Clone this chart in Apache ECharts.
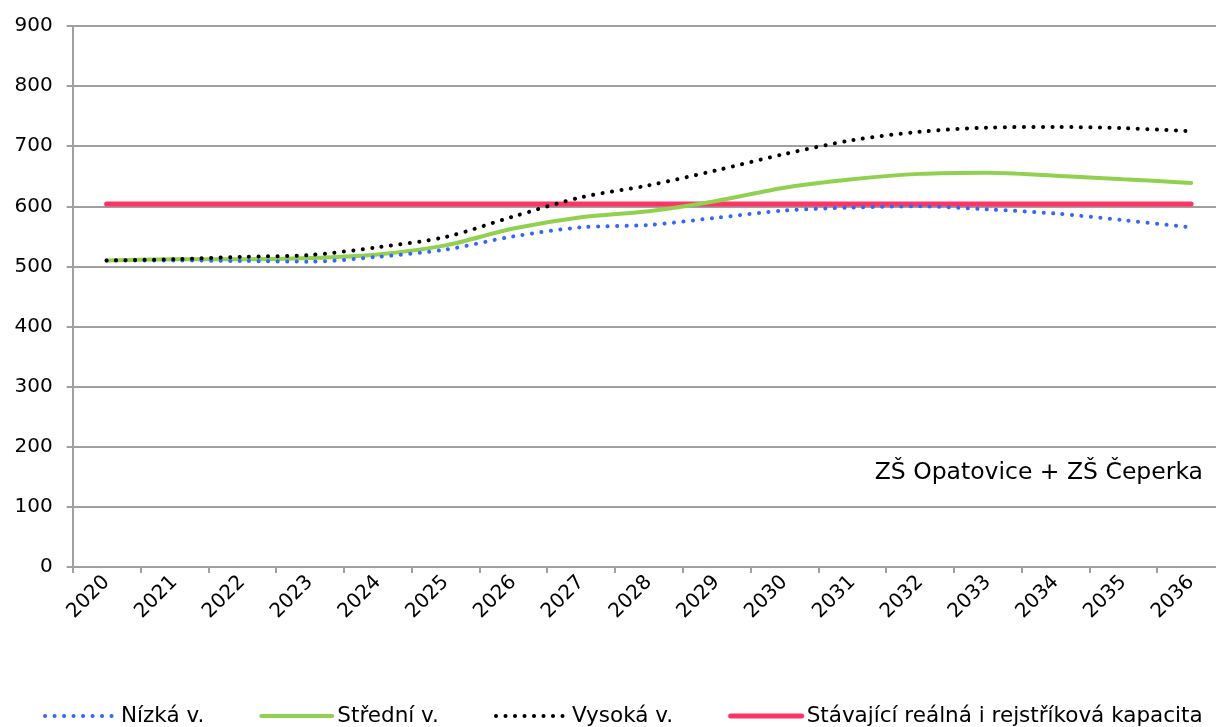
<!DOCTYPE html>
<html>
<head>
<meta charset="utf-8">
<script src="https://cdn.jsdelivr.net/npm/echarts@6/dist/echarts.min.js"></script>
<style>
  html, body { margin: 0; padding: 0; background: #fff; }
  #main { width: 1216px; height: 727px; }
</style>
</head>
<body>
<div id="main"></div>
<script>
const years = ["2020", "2021", "2022", "2023", "2024", "2025", "2026", "2027", "2028",
  "2029", "2030", "2031", "2032", "2033", "2034", "2035", "2036"];
const nizka = [510, 510, 509, 508, 516, 528, 550, 565, 569, 581, 593, 598, 600, 595, 588, 577, 565];
const stredni = [510, 512, 512, 514, 520, 535, 563, 582, 592, 609, 631, 645, 654, 656, 651, 645, 639];
const vysoka = [510, 512, 516, 519, 532, 549, 583, 615, 635, 660, 687, 710, 724, 731, 732, 730, 725];
const kapacita = [604, 604, 604, 604, 604, 604, 604, 604, 604, 604, 604, 604, 604, 604, 604, 604, 604];
const yTicks = [0, 100, 200, 300, 400, 500, 600, 700, 800, 900];

const font = "DejaVu Sans";
const gridColor = "#a0a0a0";
const dots = [0.1, 9.4];

// name, data, colour, width, dash, smooth
const lines = [
  ["Nízká v.", nizka, "#3366ff", 4, dots, 0.3],
  ["Střední v.", stredni, "#92d050", 4, "solid", 0.3],
  ["Vysoká v.", vysoka, "#000000", 4, dots, 0.3],
  ["Stávající reálná i rejstříková kapacita", kapacita, "#ff3366", 5, "solid", false],
];

const chart = echarts.init(document.getElementById("main"));

chart.setOption({
  animation: false,
  grid: {
    left: 72.7,
    right: -9,
    top: 26,
    bottom: 160,
    outerBoundsMode: "none",
  },
  xAxis: {
    type: "category",
    data: years,
    boundaryGap: true,
    axisLine: { show: true, lineStyle: { color: gridColor, width: 2 } },
    axisTick: { show: true, length: 6, lineStyle: { color: gridColor, width: 2 } },
    axisLabel: {
      rotate: 45,
      interval: 0,
      margin: 12,
      fontFamily: font,
      fontSize: 20,
      color: "#000",
    },
  },
  yAxis: {
    type: "value",
    min: yTicks[0],
    max: yTicks[yTicks.length - 1],
    interval: 100,
    axisLine: { show: true, lineStyle: { color: gridColor, width: 2 } },
    axisTick: { show: true, length: 6, lineStyle: { color: gridColor, width: 2 } },
    splitLine: { show: true, lineStyle: { color: gridColor, width: 2 } },
    axisLabel: { margin: 20, fontFamily: font, fontSize: 20, color: "#000" },
  },
  legend: {
    left: 38,
    top: 700,
    itemWidth: 71,
    itemHeight: 5,
    itemGap: 55,
    textStyle: { fontFamily: font, fontSize: 21.5, color: "#000" },
    data: lines.map(l => ({
      name: l[0],
      itemStyle: { opacity: 0 },
      lineStyle: { color: l[2], width: l[3], type: l[4], cap: "round" },
    })),
  },
  graphic: [
    {
      type: "text",
      right: 13,
      top: 461,
      style: {
        text: "ZŠ Opatovice + ZŠ Čeperka",
        fontFamily: font,
        fontSize: 23.5,
        fill: "#000",
      },
    },
  ],
  // capacity line drawn first so the projections sit on top of it
  series: [lines[3], lines[1], lines[0], lines[2]].map(l => ({
    name: l[0],
    type: "line",
    data: l[1],
    smooth: l[5],
    symbol: "none",
    showSymbol: false,
    lineStyle: { color: l[2], width: l[3], type: l[4], cap: "round" },
    itemStyle: { color: l[2] },
  })),
});
</script>
</body>
</html>
